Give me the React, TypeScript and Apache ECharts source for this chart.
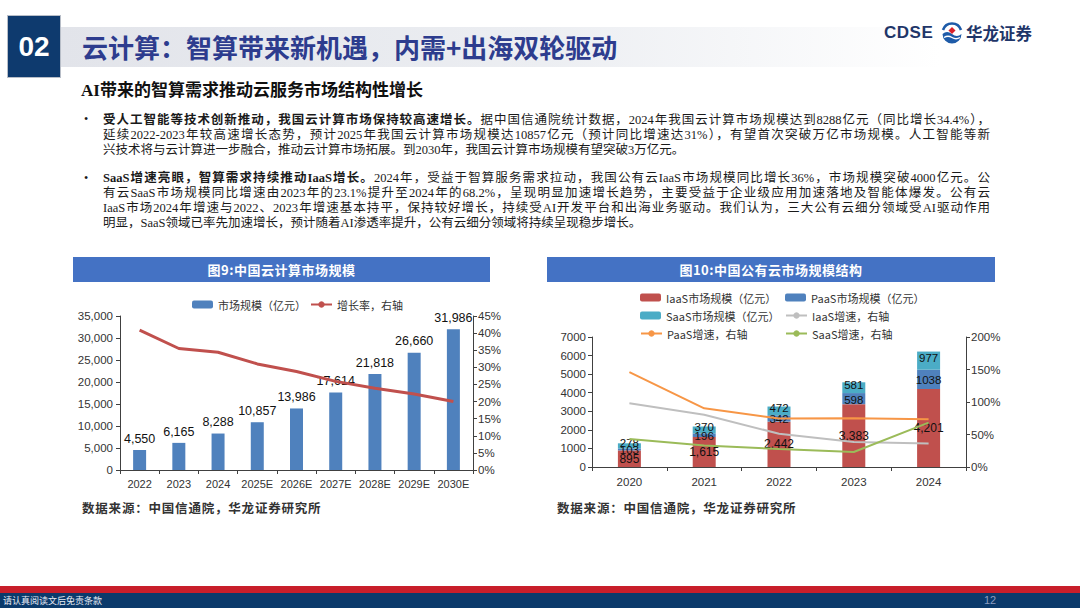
import React, { useEffect, useRef } from "react";
import * as echarts from "echarts";

// ---------- Data ----------
const years1 = ["2022", "2023", "2024", "2025E", "2026E", "2027E", "2028E", "2029E", "2030E"];
const marketSize = [4550, 6165, 8288, 10857, 13986, 17614, 21818, 26660, 31986];
const growthRate = [0.409, 0.355, 0.344, 0.31, 0.288, 0.259, 0.239, 0.222, 0.2];

const years2 = ["2020", "2021", "2022", "2023", "2024"];
const iaasSize = [895, 1615, 2442, 3383, 4201];
const paasSize = [103, 196, 342, 598, 1038];
const saasSize = [278, 370, 472, 581, 977];
const iaasGrowth = [0.98, 0.804, 0.512, 0.385, 0.36];
const paasGrowth = [1.46, 0.903, 0.745, 0.749, 0.736];
const saasGrowth = [0.43, 0.331, 0.276, 0.231, 0.682];

const SANS = "'Liberation Sans', Arial, 'Noto Sans CJK SC', sans-serif";
const CJK = "'Liberation Serif', 'Noto Sans CJK SC', serif";

const fmtThousands = (v: number) => v.toLocaleString("en-US");
const fmtPct = (v: number) => `${Math.round(v * 100)}%`;

function buildOption(): any {
  const axisLineStyle = { color: "#404040", width: 1 };
  const axisLabel = { color: "#333", fontSize: 11.5, fontFamily: SANS };
  const legendText = { color: "#333", fontSize: 11, fontFamily: "'Noto Sans CJK SC', sans-serif" };
  const mkLegend = (left: number, top: number, name: string) => ({
    left,
    top,
    padding: 0,
    itemWidth: 21,
    itemHeight: 8,
    itemGap: 6,
    textStyle: legendText,
    data: [name],
    selectedMode: false,
  });
  const labelStyle = { color: "#111", fontSize: 12, fontFamily: SANS };
  const stackLabel = { color: "#111", fontSize: 11.5, lineHeight: 11, fontFamily: SANS };

  return {
    animation: false,
    textStyle: { fontFamily: SANS },
    grid: [
      { left: 120, top: 316, width: 353, height: 154 },
      { left: 592, top: 337, width: 374, height: 130 },
    ],
    legend: [
      mkLegend(192, 299, "市场规模（亿元）"),
      mkLegend(310, 299, "增长率，右轴"),
      mkLegend(640, 292, "IaaS市场规模（亿元）"),
      mkLegend(785, 292, "PaaS市场规模（亿元）"),
      mkLegend(640, 310, "SaaS市场规模（亿元）"),
      mkLegend(785, 310, "IaaS增速，右轴"),
      mkLegend(640, 328, "PaaS增速，右轴"),
      mkLegend(785, 328, "SaaS增速，右轴"),
    ],
    xAxis: [
      {
        type: "category",
        gridIndex: 0,
        data: years1,
        axisLine: { lineStyle: axisLineStyle },
        axisTick: { show: true, alignWithLabel: false, interval: 0, length: 4, lineStyle: axisLineStyle },
        axisLabel: { ...axisLabel, fontSize: 11, margin: 8, interval: 0, hideOverlap: false },
      },
      {
        type: "category",
        gridIndex: 1,
        data: years2,
        axisLine: { lineStyle: axisLineStyle },
        axisTick: { show: true, alignWithLabel: false, interval: 0, length: 4, lineStyle: axisLineStyle },
        axisLabel: { ...axisLabel, margin: 9, interval: 0 },
      },
    ],
    yAxis: [
      {
        type: "value",
        gridIndex: 0,
        min: 0,
        max: 35000,
        interval: 5000,
        axisLine: { show: true, lineStyle: axisLineStyle },
        axisTick: { show: true, length: 4, lineStyle: axisLineStyle },
        splitLine: { show: false },
        axisLabel: { ...axisLabel, margin: 7, formatter: (v: number) => fmtThousands(v) },
      },
      {
        type: "value",
        gridIndex: 0,
        position: "right",
        min: 0,
        max: 0.45,
        interval: 0.05,
        axisLine: { show: true, lineStyle: axisLineStyle },
        axisTick: { show: true, length: 4, lineStyle: axisLineStyle },
        splitLine: { show: false },
        axisLabel: { ...axisLabel, margin: 5, formatter: (v: number) => fmtPct(v) },
      },
      {
        type: "value",
        gridIndex: 1,
        min: 0,
        max: 7000,
        interval: 1000,
        axisLine: { show: true, lineStyle: axisLineStyle },
        axisTick: { show: true, length: 4, lineStyle: axisLineStyle },
        splitLine: { show: false },
        axisLabel: { ...axisLabel, margin: 6, formatter: (v: number) => String(v) },
      },
      {
        type: "value",
        gridIndex: 1,
        position: "right",
        min: 0,
        max: 2,
        interval: 0.5,
        axisLine: { show: true, lineStyle: axisLineStyle },
        axisTick: { show: true, length: 4, lineStyle: axisLineStyle },
        splitLine: { show: false },
        axisLabel: { ...axisLabel, margin: 5, formatter: (v: number) => fmtPct(v) },
      },
    ],
    series: [
      {
        name: "市场规模（亿元）",
        type: "bar",
        xAxisIndex: 0,
        yAxisIndex: 0,
        data: marketSize,
        barWidth: 13,
        itemStyle: { color: "#4F81BD" },
        label: {
          show: true,
          position: "top",
          distance: 5,
          ...labelStyle,
          fontSize: 12.5,
          formatter: (p: any) => fmtThousands(p.value),
        },
      },
      {
        name: "增长率，右轴",
        type: "line",
        xAxisIndex: 0,
        yAxisIndex: 1,
        data: growthRate,
        symbol: "none",
        lineStyle: { color: "#C0504D", width: 3 },
        itemStyle: { color: "#C0504D" },
      },
      {
        name: "IaaS市场规模（亿元）",
        type: "bar",
        stack: "cloud",
        xAxisIndex: 1,
        yAxisIndex: 2,
        data: iaasSize,
        barWidth: 23,
        itemStyle: { color: "#C0504D" },
        label: { show: true, position: "inside", ...stackLabel, fontSize: 12, formatter: (p: any) => fmtThousands(p.value) },
      },
      {
        name: "PaaS市场规模（亿元）",
        type: "bar",
        stack: "cloud",
        xAxisIndex: 1,
        yAxisIndex: 2,
        data: paasSize,
        barWidth: 23,
        itemStyle: { color: "#4F81BD" },
        label: { show: true, position: "inside", ...stackLabel, offset: [0, 1] },
      },
      {
        name: "SaaS市场规模（亿元）",
        type: "bar",
        stack: "cloud",
        xAxisIndex: 1,
        yAxisIndex: 2,
        data: saasSize,
        barWidth: 23,
        itemStyle: { color: "#4BACC6" },
        label: { show: true, position: "inside", ...stackLabel, offset: [0, -3] },
      },
      {
        name: "IaaS增速，右轴",
        type: "line",
        xAxisIndex: 1,
        yAxisIndex: 3,
        data: iaasGrowth,
        symbol: "none",
        lineStyle: { color: "#BFBFBF", width: 2 },
        itemStyle: { color: "#BFBFBF" },
      },
      {
        name: "PaaS增速，右轴",
        type: "line",
        xAxisIndex: 1,
        yAxisIndex: 3,
        data: paasGrowth,
        symbol: "none",
        lineStyle: { color: "#F79646", width: 2 },
        itemStyle: { color: "#F79646" },
      },
      {
        name: "SaaS增速，右轴",
        type: "line",
        xAxisIndex: 1,
        yAxisIndex: 3,
        data: saasGrowth,
        symbol: "none",
        lineStyle: { color: "#9BBB59", width: 2 },
        itemStyle: { color: "#9BBB59" },
      },
    ],
  };
}

const abs = (s: React.CSSProperties): React.CSSProperties => ({ position: "absolute", ...s });

function TextLine({ top, full, children }: { top: number; full?: boolean; children: React.ReactNode }) {
  return (
    <div
      style={abs({
        left: 103,
        top: top - 8,
        width: full ? 887 : "auto",
        height: 16,
        fontSize: 12.5,
        lineHeight: "16px",
        whiteSpace: "nowrap",
        color: "#1a1a1a",
        fontFamily: CJK,
        textAlign: full ? "justify" : "left",
        textAlignLast: full ? "justify" : "auto",
      } as any)}
    >
      {children}
    </div>
  );
}

function Header({ left, width, text }: { left: number; width: number; text: string }) {
  return (
    <div
      style={abs({
        left,
        top: 257,
        width,
        height: 25,
        background: "#4472C4",
        color: "#fff",
        fontWeight: "bold",
        fontSize: 13,
        lineHeight: "25px",
        textAlign: "center",
        fontFamily: "'Noto Sans CJK SC', sans-serif",
        letterSpacing: 0.5,
      })}
    >
      {text}
    </div>
  );
}

function Source({ left }: { left: number }) {
  return (
    <div
      style={abs({
        left,
        top: 499,
        fontSize: 12.5,
        lineHeight: "18px",
        fontWeight: "bold",
        color: "#333",
        letterSpacing: 0.8,
        fontFamily: "'Noto Sans CJK SC', serif",
        whiteSpace: "nowrap",
      })}
    >
      数据来源：中国信通院，华龙证券研究所
    </div>
  );
}

export default function App() {
  const ref = useRef<HTMLDivElement>(null);
  useEffect(() => {
    if (!ref.current) return;
    const chart = echarts.init(ref.current, undefined, { renderer: "svg" });
    chart.setOption(buildOption());
    return () => chart.dispose();
  }, []);

  return (
    <div style={abs({ left: 0, top: 0, width: 1080, height: 608, background: "#fff", overflow: "hidden" })}>
      {/* Title band */}
      <div
        style={abs({
          left: 60,
          top: 27,
          width: 880,
          height: 40,
          background: "linear-gradient(to right, #e2e4ea 0%, #eceef2 55%, #ffffff 100%)",
        })}
      />
      <div
        style={abs({
          left: 7,
          top: 15,
          width: 52,
          height: 61,
          background: "#0E3A6E",
          border: "1px solid #b8bec8",
          color: "#fff",
          fontWeight: "bold",
          fontSize: 28,
          lineHeight: "61px",
          textAlign: "center",
          fontFamily: "'Liberation Sans', Arial, sans-serif",
        })}
      >
        02
      </div>
      <div
        style={abs({
          left: 82,
          top: 30,
          fontSize: 26,
          lineHeight: "34px",
          fontWeight: "bold",
          color: "#2D3C8E",
          fontFamily: "'Noto Sans CJK SC', sans-serif",
          whiteSpace: "nowrap",
        })}
      >
        云计算：智算带来新机遇，内需+出海双轮驱动
      </div>
      {/* Logo */}
      <div
        style={abs({
          left: 884,
          top: 22,
          fontSize: 17,
          lineHeight: "22px",
          fontWeight: "bold",
          color: "#1F3669",
          fontFamily: "'Liberation Sans', Arial, sans-serif",
          letterSpacing: 0.5,
        })}
      >
        CDSE
      </div>
      <svg style={abs({ left: 940, top: 21, width: 24, height: 24 })} viewBox="0 0 24 24">
        <path d="M3 9 A9.5 9.5 0 0 1 21 9" fill="none" stroke="#1E5BA8" strokeWidth="2.6" />
        <path d="M2.5 13 Q7 9 12 13 T21.5 13 A9.5 9.5 0 0 1 2.5 13 Z" fill="#1E5BA8" />
        <path d="M4 16.5 Q8 14 12 16.5 T20 16.5" fill="none" stroke="#ffffff" strokeWidth="1.3" />
        <rect x="9.5" y="7" width="5" height="5" transform="rotate(45 12 9.5)" fill="#D9222A" />
      </svg>
      <div
        style={abs({
          left: 966,
          top: 22,
          fontSize: 16.5,
          lineHeight: "22px",
          fontWeight: "bold",
          color: "#1F3669",
          fontFamily: "'Noto Sans CJK SC', sans-serif",
        })}
      >
        华龙证券
      </div>

      {/* Subheading */}
      <div
        style={abs({
          left: 81,
          top: 80,
          fontSize: 17,
          lineHeight: "22px",
          fontWeight: "bold",
          color: "#111",
          fontFamily: CJK,
          whiteSpace: "nowrap",
        })}
      >
        AI带来的智算需求推动云服务市场结构性增长
      </div>

      {/* Bullets */}
      <div style={abs({ left: 84, top: 111, fontSize: 12, lineHeight: "16px", color: "#1a1a1a" })}>•</div>
      <div style={abs({ left: 84, top: 170, fontSize: 12, lineHeight: "16px", color: "#1a1a1a" })}>•</div>
      <TextLine top={120} full>
        <b>受人工智能等技术创新推动，我国云计算市场保持较高速增长。</b>据中国信通院统计数据，2024年我国云计算市场规模达到8288亿元（同比增长34.4%），
      </TextLine>
      <TextLine top={135} full>
        延续2022-2023年较高速增长态势，预计2025年我国云计算市场规模达10857亿元（预计同比增速达31%），有望首次突破万亿市场规模。人工智能等新
      </TextLine>
      <TextLine top={150}>兴技术将与云计算进一步融合，推动云计算市场拓展。到2030年，我国云计算市场规模有望突破3万亿元。</TextLine>
      <TextLine top={178} full>
        <b>SaaS增速亮眼，智算需求持续推动IaaS增长。</b>2024年，受益于智算服务需求拉动，我国公有云IaaS市场规模同比增长36%，市场规模突破4000亿元。公
      </TextLine>
      <TextLine top={193} full>
        有云SaaS市场规模同比增速由2023年的23.1%提升至2024年的68.2%，呈现明显加速增长趋势，主要受益于企业级应用加速落地及智能体爆发。公有云
      </TextLine>
      <TextLine top={208} full>
        IaaS市场2024年增速与2022、2023年增速基本持平，保持较好增长，持续受AI开发平台和出海业务驱动。我们认为，三大公有云细分领域受AI驱动作用
      </TextLine>
      <TextLine top={223}>明显，SaaS领域已率先加速增长，预计随着AI渗透率提升，公有云细分领域将持续呈现稳步增长。</TextLine>

      {/* Chart headers */}
      <Header left={73} width={417} text="图9:中国云计算市场规模" />
      <Header left={547} width={448} text="图10:中国公有云市场规模结构" />

      <Source left={82} />
      <Source left={557} />

      {/* Footer */}
      <div style={abs({ left: 0, top: 586, width: 1080, height: 7, background: "#C81E2A" })} />
      <div style={abs({ left: 0, top: 593, width: 1080, height: 15, background: "#0B3A6B" })} />
      <div
        style={abs({
          left: 3,
          top: 593,
          fontSize: 9,
          lineHeight: "15px",
          color: "#e8ecf4",
          fontFamily: "'Noto Sans CJK SC', sans-serif",
        })}
      >
        请认真阅读文后免责条款
      </div>
      <div
        style={abs({
          left: 984,
          top: 593,
          fontSize: 11,
          lineHeight: "15px",
          color: "#8a9cc0",
          fontFamily: "'Liberation Sans', Arial, sans-serif",
        })}
      >
        12
      </div>

      {/* ECharts overlay */}
      <div ref={ref} style={abs({ left: 0, top: 0, width: 1080, height: 608 })} />
    </div>
  );
}
